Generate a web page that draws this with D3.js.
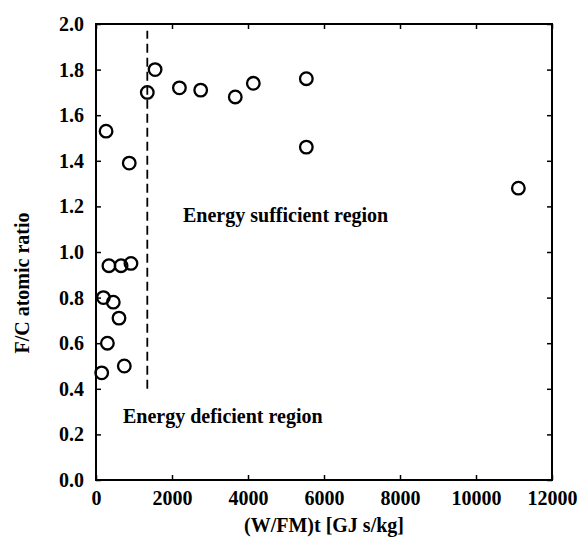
<!DOCTYPE html>
<html>
<head>
<meta charset="utf-8">
<script src="https://cdn.jsdelivr.net/npm/d3@7"></script>
<style>
	body { margin: 0; background: #fff; }
	svg text { font-family: "Liberation Serif", "Times New Roman", serif; font-weight: bold; fill: #000; }
	.tick text { font-size: 20px; }
	.domain { display: none; }
	.tick line { stroke: #000; stroke-width: 1.5; }
</style>
</head>
<body>
<div id="chart"></div>
<script>
// Data
const energyInput = [150, 195, 300, 340, 455, 605, 660, 745, 920, 265, 875, 1350, 1555, 2195, 2755, 3665, 4140, 5535, 5535, 11115];
const fcRatio     = [0.47, 0.80, 0.60, 0.94, 0.78, 0.71, 0.94, 0.50, 0.95, 1.53, 1.39, 1.70, 1.80, 1.72, 1.71, 1.68, 1.74, 1.76, 1.46, 1.28];
const xTicks = [0, 2000, 4000, 6000, 8000, 10000, 12000];
const yTicks = [0, 0.2, 0.4, 0.6, 0.8, 1.0, 1.2, 1.4, 1.6, 1.8, 2.0];
const boundaryX = 1350;
const boundaryY = [0.4, 1.97];

const outerwidth = 580, outerheight = 537;
const margin = {left: 96, top: 24, right: 28, bottom: 57};
const width = outerwidth - margin.left - margin.right;
const height = outerheight - margin.top - margin.bottom;

const svg = d3.select("#chart").append("svg")
	.attr("width", outerwidth)
	.attr("height", outerheight);

const g = svg.append("g").attr("transform", "translate(" + margin.left + "," + margin.top + ")");

const xscale = d3.scaleLinear().domain([0, 12000]).range([0, width]);
const yscale = d3.scaleLinear().domain([0, 2.0]).range([height, 0]);

// axes, ticks pointing inward
g.append("g")
	.attr("transform", "translate(0," + height + ")")
	.call(d3.axisBottom(xscale).tickValues(xTicks).tickFormat(d3.format("d")).tickSizeInner(-5).tickSizeOuter(0).tickPadding(11));
g.append("g")
	.call(d3.axisTop(xscale).tickValues(xTicks).tickFormat("").tickSizeInner(-5).tickSizeOuter(0));
g.append("g")
	.call(d3.axisLeft(yscale).tickValues(yTicks).tickFormat(d3.format(".1f")).tickSizeInner(-5).tickSizeOuter(0).tickPadding(12));
g.append("g")
	.attr("transform", "translate(" + width + ",0)")
	.call(d3.axisRight(yscale).tickValues(yTicks).tickFormat("").tickSizeInner(-5).tickSizeOuter(0));

// frame
g.append("rect")
	.attr("width", width)
	.attr("height", height)
	.attr("fill", "none")
	.attr("stroke", "#000")
	.attr("stroke-width", 2);

// boundary between the two regions
g.append("line")
	.attr("x1", xscale(boundaryX)).attr("x2", xscale(boundaryX))
	.attr("y1", yscale(boundaryY[0])).attr("y2", yscale(boundaryY[1]))
	.attr("stroke", "#000")
	.attr("stroke-width", 1.8)
	.attr("stroke-dasharray", "9,5");

// points
g.selectAll("circle")
	.data(energyInput.map((x, i) => ({x: x, y: fcRatio[i]})))
	.enter().append("circle")
	.attr("cx", d => xscale(d.x))
	.attr("cy", d => yscale(d.y))
	.attr("r", 6.3)
	.attr("fill", "none")
	.attr("stroke", "#000")
	.attr("stroke-width", 2.3);

// region labels
g.append("text")
	.attr("x", xscale(2290))
	.attr("y", yscale(1.13))
	.style("font-size", "20px")
	.text("Energy sufficient region");
g.append("text")
	.attr("x", xscale(710))
	.attr("y", yscale(0.25))
	.style("font-size", "20px")
	.text("Energy deficient region");

// axis titles
svg.append("text")
	.attr("x", 324)
	.attr("y", 532)
	.attr("text-anchor", "middle")
	.style("font-size", "20px")
	.text("(W/FM)t [GJ s/kg]");
svg.append("text")
	.attr("transform", "translate(29," + 283 + ") rotate(-90)")
	.attr("text-anchor", "middle")
	.style("font-size", "20px")
	.text("F/C atomic ratio");
</script>
</body>
</html>
